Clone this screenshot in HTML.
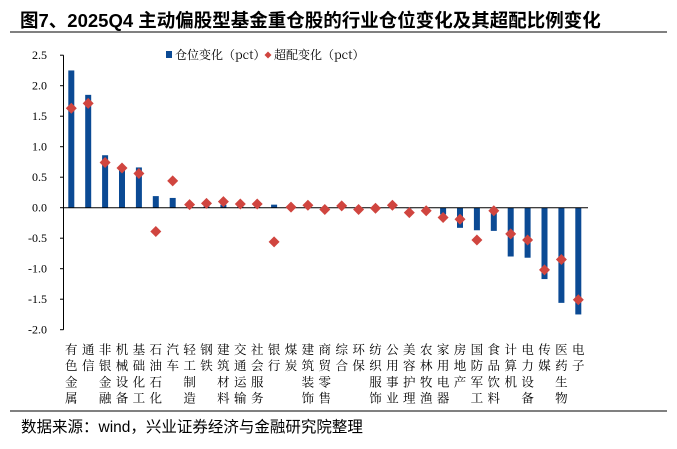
<!DOCTYPE html>
<html><head><meta charset="utf-8">
<style>
body{margin:0;background:#fff;width:677px;height:449px;overflow:hidden;position:relative;font-family:"Liberation Sans","Noto Sans CJK SC",sans-serif}
#title{position:absolute;left:20px;top:7px;font-size:18.5px;font-weight:bold;color:#000;white-space:nowrap}
#src{position:absolute;left:21px;top:415px;font-size:15.5px;color:#000;white-space:nowrap}
svg{position:absolute;left:0;top:0}
</style></head><body>
<div id="title">图7、2025Q4 主动偏股型基金重仓股的行业仓位变化及其超配比例变化</div>
<svg id="chart" width="677" height="449"></svg>
<div id="src">数据来源：wind，兴业证券经济与金融研究院整理</div>
<script>
const categories=["有色金属","通信","非银金融","机械设备","基础化工","石油石化","汽车","轻工制造","钢铁","建筑材料","交通运输","社会服务","银行","煤炭","建筑装饰","商贸零售","综合","环保","纺织服饰","公用事业","美容护理","农林牧渔","家用电器","房地产","国防军工","食品饮料","计算机","电力设备","传媒","医药生物","电子"];
const positionChange=[2.25,1.85,0.86,0.68,0.66,0.19,0.16,0.03,0.02,0.05,0.02,0.01,0.05,0.0,0.01,0.0,0.0,0.0,0.0,0.0,-0.01,-0.02,-0.11,-0.33,-0.37,-0.38,-0.80,-0.82,-1.17,-1.56,-1.75];
const overweightChange=[1.63,1.71,0.74,0.65,0.56,-0.39,0.44,0.05,0.07,0.10,0.06,0.06,-0.56,0.01,0.04,-0.03,0.03,-0.03,-0.01,0.04,-0.08,-0.05,-0.16,-0.19,-0.53,-0.05,-0.43,-0.53,-1.02,-0.85,-1.51];
const yTicks=[2.5,2.0,1.5,1.0,0.5,0.0,-0.5,-1.0,-1.5,-2.0];
const NS="http://www.w3.org/2000/svg";
const svg=document.getElementById('chart');
const y0=207.7,unit=61,xFirst=71.3,step=16.9;
const yS=v=>y0-v*unit;
const xS=i=>xFirst+i*step;
function mk(t,a,p){const e=document.createElementNS(NS,t);for(const k in a)e.setAttribute(k,a[k]);(p||svg).appendChild(e);return e;}
mk('line',{x1:10,y1:32,x2:667,y2:32,stroke:'#000','stroke-width':1});
mk('line',{x1:10,y1:411,x2:667,y2:411,stroke:'#000','stroke-width':1});
const ax=mk('line',{x1:63.5,y1:yS(2.5),x2:63.5,y2:yS(-2),stroke:'#000','stroke-width':1});


yTicks.forEach(v=>{
 mk('line',{x1:60,y1:yS(v),x2:63.5,y2:yS(v),stroke:'#000'});
 const t=mk('text',{x:47,y:yS(v)+4,'text-anchor':'end','font-size':12,'font-family':'"Liberation Serif",serif'});
 t.textContent=v.toFixed(1);
 
 
});
positionChange.forEach((v,i)=>{
 const y=Math.min(yS(v),y0),h=Math.abs(yS(v)-y0);
 const r=mk('rect',{x:xS(i)-3,y:y,width:6,height:Math.max(h,0.01),fill:'#0b4a94'});
 
 
});
mk('line',{x1:63.5,y1:y0,x2:588,y2:y0,stroke:'#000','stroke-width':1});
overweightChange.forEach((v,i)=>{
 const cx=xS(i),cy=yS(v),s=5.5;
 const p=mk('polygon',{points:`${cx},${cy-s} ${cx+s},${cy} ${cx},${cy+s} ${cx-s},${cy}`,fill:'#d0453f'});
 
 
});
categories.forEach((c,i)=>{
 [...c].forEach((ch,j)=>{
  const t=mk('text',{x:xS(i),y:354+j*16.2,'text-anchor':'middle','font-size':12.5,'font-family':'"Noto Serif CJK SC","Noto Sans CJK SC",serif'});
  t.textContent=ch;
  
  
 });
});
const lg=mk('g',{});


mk('rect',{x:166,y:51,width:6,height:7,fill:'#0b4a94'},lg);
const l1=mk('text',{x:175,y:59,'font-size':12,'font-family':'"Noto Serif CJK SC",serif'},lg);l1.textContent='仓位变化（pct）';
mk('polygon',{points:'268,51.5 271.5,55 268,58.5 264.5,55',fill:'#d0453f'},lg);
const l2=mk('text',{x:274,y:59,'font-size':12,'font-family':'"Noto Serif CJK SC",serif'},lg);l2.textContent='超配变化（pct）';
</script>
</body></html>
